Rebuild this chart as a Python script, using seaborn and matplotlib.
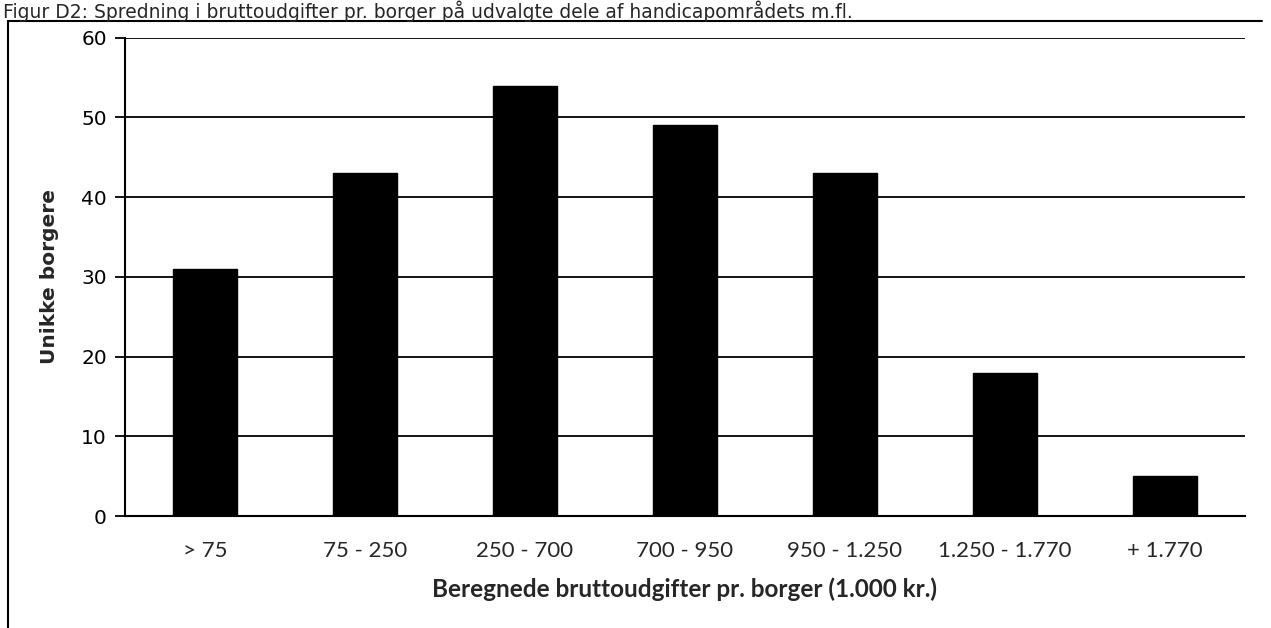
import matplotlib
matplotlib.use('Agg')
import matplotlib.pyplot as plt
import seaborn as sns
import pandas as pd
from matplotlib.lines import Line2D

# data
categories = ['> 75', '75 - 250', '250 - 700', '700 - 950', '950 - 1.250', '1.250 - 1.770', '+ 1.770']
borgere = [31, 43, 54, 49, 43, 18, 5]
y_ticks = [0, 10, 20, 30, 40, 50, 60]

df = pd.DataFrame({'kategori': categories, 'borgere': borgere})

sns.set_style('white')
plt.rcParams['font.family'] = ['DejaVu Sans']

fig = plt.figure(figsize=(12.71, 6.28), dpi=100)
ax = fig.add_axes([0.0983, 0.178, 0.881, 0.762])

sns.barplot(data=df, x='kategori', y='borgere', color='black', width=0.4,
            saturation=1, ax=ax, zorder=3)
for p in ax.patches:
    p.set_edgecolor('black')

ax.set_ylim(0, 60)
ax.set_yticks(y_ticks)
ax.set_xlim(-0.5, len(categories) - 0.5)
ax.yaxis.grid(True, color='black', linewidth=1.3, zorder=0)
ax.set_axisbelow(True)

for s in ['top', 'right']:
    ax.spines[s].set_visible(False)
for s in ['left', 'bottom']:
    ax.spines[s].set_color('black')
    ax.spines[s].set_linewidth(1.5)

ax.tick_params(axis='y', left=True, length=7, width=1.3, labelsize=14.5, pad=6, colors='black')
ax.tick_params(axis='x', bottom=False, labelsize=16, pad=14)
for lbl in ax.get_xticklabels():
    lbl.set_family(['Lato', 'DejaVu Sans'])

ax.set_ylabel('Unikke borgere', fontsize=14.5, fontweight='bold', labelpad=16)
ax.set_xlabel('Beregnede bruttoudgifter pr. borger (1.000 kr.)', fontsize=17.5,
              fontweight='bold', family=['Lato', 'DejaVu Sans'], labelpad=12)

# caption and frame of the surrounding box
fig.text(0.002, 0.999, 'Figur D2: Spredning i bruttoudgifter pr. borger på udvalgte dele af handicapområdets m.fl.',
         fontsize=13.5, va='top', ha='left')
fig.add_artist(Line2D([8 / 1271, 8 / 1271], [0, 1 - 21 / 628], color='black', linewidth=1.5))
fig.add_artist(Line2D([8 / 1271, 1262 / 1271], [1 - 21 / 628, 1 - 21 / 628], color='black', linewidth=1.5))

fig.savefig('out.png', dpi=100)
